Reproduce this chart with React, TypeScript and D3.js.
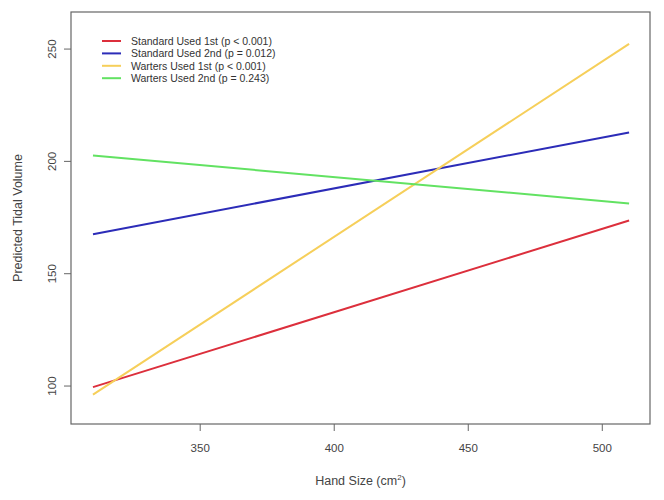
import React from "react";
import * as d3 from "d3";

const seriesNames = [
  "Standard Used 1st (p < 0.001)",
  "Standard Used 2nd (p = 0.012)",
  "Warters Used 1st (p < 0.001)",
  "Warters Used 2nd (p = 0.243)",
];
const seriesColors = ["#dc2f3c", "#2c2cb8", "#f6cf5a", "#62e262"];
const handSize = [310, 510];
const standard1st = [99.5, 173.7];
const standard2nd = [167.6, 212.9];
const warters1st = [96.2, 252.3];
const warters2nd = [202.6, 181.3];
const xTicks = [350, 400, 450, 500];
const yTicks = [100, 150, 200, 250];

const allSeries = [standard1st, standard2nd, warters1st, warters2nd];

export default function App() {
  const W = 664;
  const H = 500;
  const left = 71, right = 650, top = 12, bottom = 424;
  const x = d3.scaleLinear().domain([301.8, 517.8]).range([left, right]);
  const y = d3.scaleLinear().domain([83.1, 266.5]).range([bottom, top]);
  const line = d3
    .line<[number, number]>()
    .x((d) => x(d[0]))
    .y((d) => y(d[1]));
  const font = "'Liberation Sans', Arial, sans-serif";
  const axisColor = "#666";
  const textColor = "#444";

  return (
    <svg
      width={W}
      height={H}
      style={{ position: "absolute", left: 0, top: 0, background: "#fff" }}
      fontFamily={font}
    >
      <rect x={0} y={0} width={W} height={H} fill="#fff" />
      <rect
        x={left}
        y={top}
        width={right - left}
        height={bottom - top}
        fill="none"
        stroke={axisColor}
        strokeWidth={1.2}
      />
      {xTicks.map((t) => (
        <g key={"x" + t}>
          <line x1={x(t)} x2={x(t)} y1={bottom} y2={bottom + 7} stroke={axisColor} />
          <text
            x={x(t)}
            y={bottom + 28}
            textAnchor="middle"
            fontSize={11.5}
            fill={textColor}
          >
            {t}
          </text>
        </g>
      ))}
      {yTicks.map((t) => (
        <g key={"y" + t}>
          <line x1={left - 7} x2={left} y1={y(t)} y2={y(t)} stroke={axisColor} />
          <text
            transform={`translate(${left - 15},${y(t)}) rotate(-90)`}
            textAnchor="middle"
            fontSize={11.5}
            fill={textColor}
          >
            {t}
          </text>
        </g>
      ))}
      <text
        x={(left + right) / 2}
        y={485}
        textAnchor="middle"
        fontSize={12.5}
        fill={textColor}
      >
        Hand Size (cm
        <tspan dy={-5} fontSize={8}>
          2
        </tspan>
        <tspan dy={5}>)</tspan>
      </text>
      <text
        transform={`translate(22,${(top + bottom) / 2}) rotate(-90)`}
        textAnchor="middle"
        fontSize={12.5}
        fill={textColor}
      >
        Predicted Tidal Volume
      </text>
      {allSeries.map((s, i) => (
        <path
          key={"l" + i}
          d={line(handSize.map((h, j) => [h, s[j]] as [number, number])) || ""}
          fill="none"
          stroke={seriesColors[i]}
          strokeWidth={2}
        />
      ))}
      {seriesNames.map((n, i) => {
        const ly = 41 + i * 12.4;
        return (
          <g key={"lg" + i}>
            <line x1={102} x2={121} y1={ly} y2={ly} stroke={seriesColors[i]} strokeWidth={2} />
            <text x={131} y={ly + 3.7} fontSize={10.5} fill="#333">
              {n}
            </text>
          </g>
        );
      })}
    </svg>
  );
}
